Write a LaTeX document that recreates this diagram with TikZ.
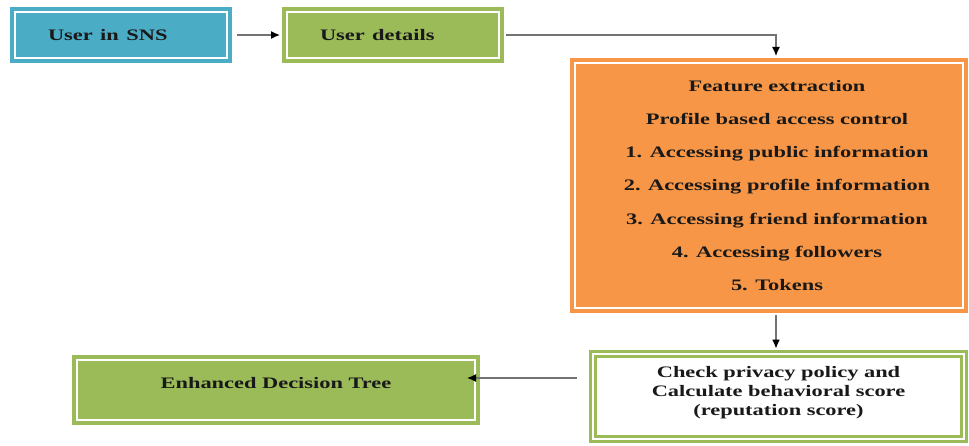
\documentclass[tikz,border=0pt]{standalone}
\usepackage{fontspec}
\setmainfont{Liberation Serif}
\usepackage{graphicx}
\usetikzlibrary{arrows.meta}
\definecolor{snsblue}{HTML}{4BACC6}
\definecolor{boxgreen}{HTML}{9BBB59}
\definecolor{featorange}{HTML}{F79646}
\colorlet{linkgray}{black!55}

\begin{document}
\begin{tikzpicture}[x=1pt,y=1pt,
    box/.style={draw=#1, fill=#1, line width=4pt, double=white, double distance=2.4pt,
        text=black!90, font=\fontsize{16}{21}\selectfont\bfseries},
    topbox/.style={box=#1, minimum height=46pt, text width=146pt, inner xsep=33pt,
        inner ysep=0pt, align=left},
    link/.style={draw=linkgray, line width=1.3pt,
        -{Latex[length=9pt,width=8pt,color=black]}}
]
    \newcommand\wide[1]{\scalebox{1.4}[1]{#1}}
    \newcommand\featline[1]{\hspace*{16pt}\wide{#1}}
    \useasboundingbox (0,0) rectangle (969,445);

    % top row
    \node[topbox=snsblue] (sns) at (121,410) {\wide{User in SNS}};
    \node[topbox=boxgreen] (det) at (393,410) {\wide{User details}};

    % feature extraction
    \node[box=featorange, minimum width=388pt, minimum height=245pt, align=center,
        font=\fontsize{16}{33.3}\selectfont\bfseries] (feat) at (769,259.5)
        {\featline{Feature extraction}\\
         \featline{Profile based access control}\\
         \featline{1. Accessing public information}\\
         \featline{2. Accessing profile information}\\
         \featline{3. Accessing friend information}\\
         \featline{4. Accessing followers}\\
         \featline{5. Tokens}};

    % bottom row
    \node[box=boxgreen, fill=white, line width=3pt, minimum width=371pt,
        minimum height=85pt, align=center, font=\fontsize{16}{19}\selectfont\bfseries]
        (check) at (778.5,48.5)
        {\wide{Check privacy policy and}\\
         \wide{Calculate behavioral score}\\
         \wide{(reputation score)}\\[-8pt]\mbox{}};
    \node[box=boxgreen, minimum width=398pt, minimum height=60pt,
        text height=11pt, text depth=15pt] (edt) at (276,55)
        {\wide{Enhanced Decision Tree}};

    % links
    \draw[link, shorten <=8pt, shorten >=5pt] (sns) -- (det);
    \draw[link, shorten <=5pt, shorten >=5pt] (det.east) -| ([xshift=7pt]feat.north);
    \draw[link, shorten <=5pt, shorten >=4pt] ([xshift=7pt]feat.south)
        -- ([xshift=7pt]feat.south |- check.north);
    \draw[link, shorten <=15pt, shorten >=-10pt] ([yshift=18.5pt]check.west)
        -- ([yshift=18.5pt]check.west -| edt.east);
\end{tikzpicture}
\end{document}
